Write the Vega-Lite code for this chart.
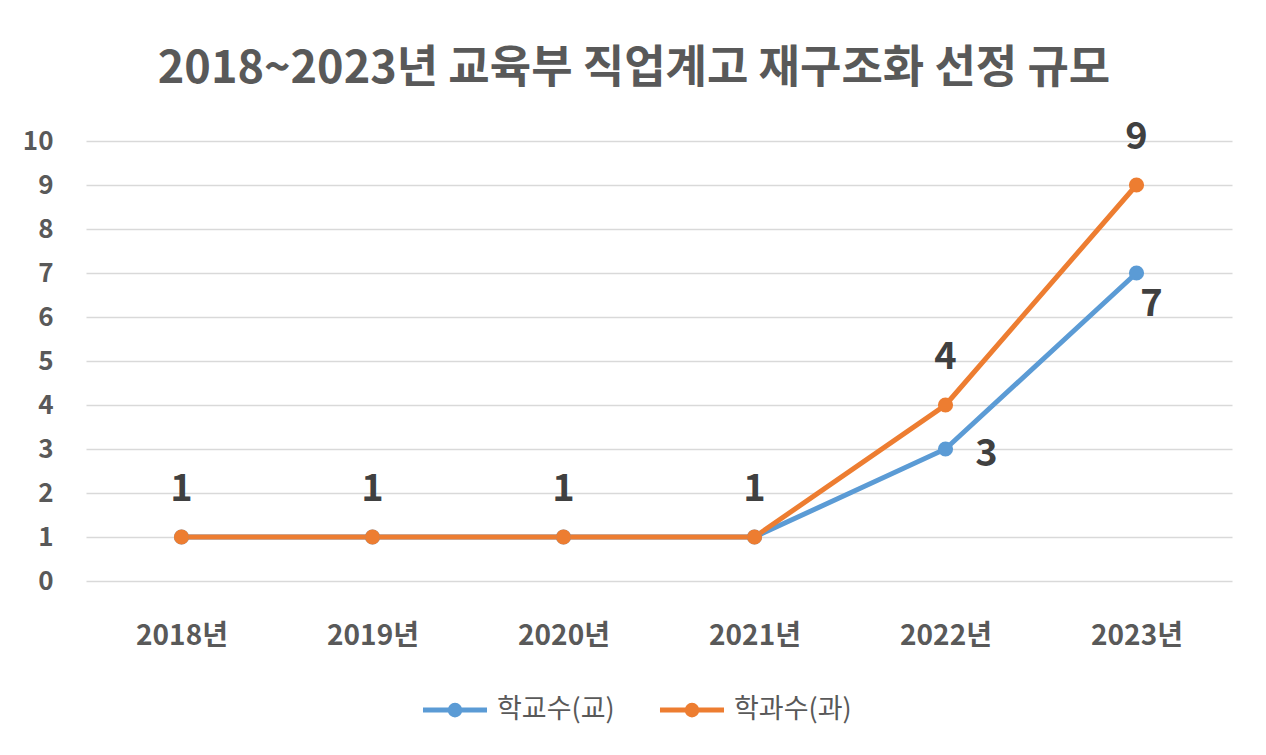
{
  "$schema": "https://vega.github.io/schema/vega-lite/v6.json",
  "width": 1146,
  "height": 440,
  "autosize": {"type": "none"},
  "padding": {"left": 86, "top": 141, "right": 34, "bottom": 174},
  "background": "white",
  "title": {
    "text": "2018~2023년 교육부 직업계고 재구조화 선정 규모",
    "font": "Noto Sans CJK KR",
    "fontSize": 45,
    "fontWeight": "bold",
    "color": "#595959",
    "anchor": "middle",
    "dx": -25,
    "offset": 27
  },
  "data": {
    "values": [
      {"year": "2018년", "series": "학교수(교)", "value": 1},
      {"year": "2019년", "series": "학교수(교)", "value": 1},
      {"year": "2020년", "series": "학교수(교)", "value": 1},
      {"year": "2021년", "series": "학교수(교)", "value": 1},
      {"year": "2022년", "series": "학교수(교)", "value": 3},
      {"year": "2023년", "series": "학교수(교)", "value": 7},
      {"year": "2018년", "series": "학과수(과)", "value": 1},
      {"year": "2019년", "series": "학과수(과)", "value": 1},
      {"year": "2020년", "series": "학과수(과)", "value": 1},
      {"year": "2021년", "series": "학과수(과)", "value": 1},
      {"year": "2022년", "series": "학과수(과)", "value": 4},
      {"year": "2023년", "series": "학과수(과)", "value": 9}
    ]
  },
  "encoding": {
    "x": {
      "field": "year", "type": "ordinal",
      "scale": {"type": "point", "padding": 0.5},
      "axis": {
        "title": null, "labelAngle": 0, "domain": false, "ticks": false, "grid": false,
        "labelFont": "Noto Sans CJK KR", "labelFontSize": 28, "labelFontWeight": "bold",
        "labelColor": "#595959", "labelPadding": 41
      }
    },
    "y": {
      "field": "value", "type": "quantitative",
      "scale": {"domain": [0, 10], "nice": false},
      "axis": {
        "title": null, "values": [0,1,2,3,4,5,6,7,8,9,10], "domain": false, "ticks": false,
        "grid": true, "gridColor": "#d9d9d9", "gridWidth": 1.5,
        "labelFont": "Noto Sans CJK KR", "labelFontSize": 26, "labelFontWeight": "bold",
        "labelColor": "#595959", "labelPadding": 33
      }
    }
  },
  "layer": [
    {
      "mark": {"type": "line", "strokeWidth": 5, "point": {"filled": true, "size": 230, "opacity": 1}},
      "encoding": {
        "color": {
          "field": "series", "type": "nominal",
          "scale": {"domain": ["학교수(교)", "학과수(과)"], "range": ["#5B9BD5", "#ED7D31"]},
          "legend": {
            "title": null, "orient": "none", "direction": "horizontal",
            "legendX": 334, "legendY": 534,
            "labelFont": "Noto Sans CJK KR", "labelFontSize": 27, "labelColor": "#595959",
            "symbolType": "M-1,0L1,0M0.15,0A0.15,0.15 0 1,1 -0.15,0A0.15,0.15 0 1,1 0.15,0",
            "symbolSize": 4100, "symbolStrokeWidth": 5, "symbolOpacity": 1,
            "columnPadding": 34, "labelOffset": 7
          }
        }
      }
    },
    {
      "transform": [{"filter": "datum.series === '학과수(과)'"}],
      "mark": {"type": "text", "dy": -47, "font": "Noto Sans CJK KR", "fontSize": 38, "fontWeight": "bold", "color": "#404040"},
      "encoding": {"text": {"field": "value", "type": "quantitative"}}
    },
    {
      "transform": [{"filter": "datum.series === '학교수(교)' && datum.year === '2022년'"}],
      "mark": {"type": "text", "dx": 41, "dy": 6, "font": "Noto Sans CJK KR", "fontSize": 38, "fontWeight": "bold", "color": "#404040"},
      "encoding": {"text": {"field": "value", "type": "quantitative"}}
    },
    {
      "transform": [{"filter": "datum.series === '학교수(교)' && datum.year === '2023년'"}],
      "mark": {"type": "text", "dx": 15, "dy": 32, "font": "Noto Sans CJK KR", "fontSize": 38, "fontWeight": "bold", "color": "#404040"},
      "encoding": {"text": {"field": "value", "type": "quantitative"}}
    }
  ],
  "config": {"view": {"stroke": null}}
}
